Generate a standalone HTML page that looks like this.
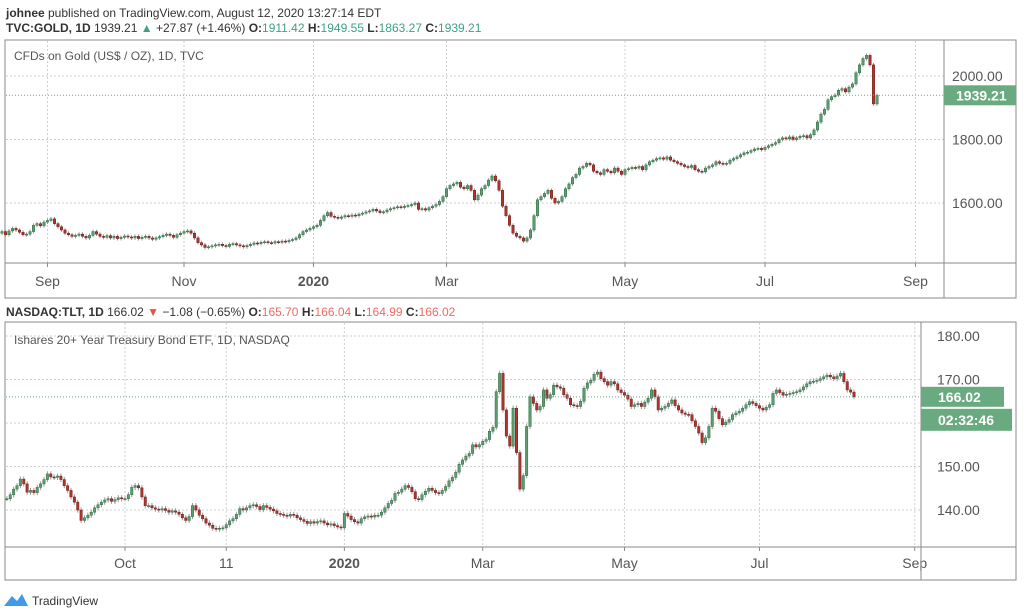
<!DOCTYPE html>
<html><head><meta charset="utf-8"><style>
body{margin:0;background:#fff;font-family:"Liberation Sans",sans-serif;}
#wrap{position:relative;width:1024px;height:616px;overflow:hidden;}
svg text{font-family:"Liberation Sans",sans-serif;}
</style></head><body>
<div id="wrap">
<svg id="svg" width="1024" height="616" xmlns="http://www.w3.org/2000/svg">
  <text x="6" y="17" font-size="12" fill="#333"><tspan font-weight="bold">johnee</tspan> published on TradingView.com, August 12, 2020 13:27:14 EDT</text>
  <text x="6" y="32" font-size="12" fill="#333"><tspan font-weight="bold">TVC:GOLD, 1D</tspan> 1939.21 <tspan fill="#3fa089">▲</tspan> +27.87 (+1.46%) <tspan font-weight="bold">O:</tspan><tspan fill="#3fa089">1911.42</tspan> <tspan font-weight="bold">H:</tspan><tspan fill="#3fa089">1949.55</tspan> <tspan font-weight="bold">L:</tspan><tspan fill="#3fa089">1863.27</tspan> <tspan font-weight="bold">C:</tspan><tspan fill="#3fa089">1939.21</tspan></text>
  <text x="6" y="316" font-size="12" fill="#333"><tspan font-weight="bold">NASDAQ:TLT, 1D</tspan> 166.02 <tspan fill="#e5534b">▼</tspan> −1.08 (−0.65%) <tspan font-weight="bold">O:</tspan><tspan fill="#ef6a63">165.70</tspan> <tspan font-weight="bold">H:</tspan><tspan fill="#ef6a63">166.04</tspan> <tspan font-weight="bold">L:</tspan><tspan fill="#ef6a63">164.99</tspan> <tspan font-weight="bold">C:</tspan><tspan fill="#ef6a63">166.02</tspan></text>

  <g id="topGrid"></g>
  <g id="botGrid"></g>

  <rect x="5" y="40" width="1011" height="258" fill="none" stroke="#8a8a8a"/>
  <line x1="5" y1="263" x2="1016" y2="263" stroke="#8a8a8a"/>
  <line x1="944" y1="40" x2="944" y2="298" stroke="#8a8a8a"/>
  <text x="14" y="60" font-size="12" fill="#555">CFDs on Gold (US$ / OZ), 1D, TVC</text>

  <rect x="5" y="322" width="1011" height="258" fill="none" stroke="#8a8a8a"/>
  <line x1="5" y1="547" x2="1016" y2="547" stroke="#8a8a8a"/>
  <line x1="921" y1="322" x2="921" y2="580" stroke="#8a8a8a"/>
  <text x="14" y="344" font-size="12" fill="#555">Ishares 20+ Year Treasury Bond ETF, 1D, NASDAQ</text>

  <g id="topCandles"></g>
  <g id="botCandles"></g>
  <g id="tags"></g>

  <g>
    <path d="M4 606 L12 596 L17 601 L22 594 L28 606 Z" fill="#1e88e5" opacity="0.85"/>
    <text x="32" y="605" font-size="12" fill="#333">TradingView</text>
  </g>
</svg>
</div>
<script>
// ---- Gold data ----
const goldCloses = [
1505,1510,1500,1512,1520,1515,1508,1500,1502,1510,
1530,1535,1528,1540,1545,1550,1535,1525,1515,1505,
1500,1495,1498,1502,1495,1490,1498,1510,1502,1495,
1492,1497,1490,1495,1488,1492,1496,1493,1490,1495,
1488,1492,1495,1490,1486,1490,1494,1498,1502,1498,
1492,1500,1505,1510,1512,1505,1490,1475,1468,1460,
1462,1465,1468,1470,1466,1463,1470,1472,1468,1465,
1462,1466,1470,1474,1472,1476,1478,1475,1474,1478,
1476,1480,1478,1482,1485,1490,1500,1510,1515,1520,
1525,1530,1545,1560,1570,1558,1555,1552,1556,1560,
1558,1562,1560,1565,1568,1572,1575,1580,1575,1570,
1572,1578,1582,1585,1588,1586,1590,1592,1595,1600,
1580,1582,1578,1585,1590,1595,1605,1620,1645,1655,
1660,1665,1650,1645,1655,1640,1610,1625,1645,1655,
1672,1685,1670,1640,1590,1560,1530,1505,1495,1490,
1480,1490,1515,1560,1610,1620,1630,1640,1615,1600,
1605,1620,1645,1660,1680,1690,1710,1715,1725,1720,
1700,1695,1690,1705,1700,1695,1710,1700,1690,1705,
1708,1712,1710,1715,1705,1720,1730,1735,1740,1742,
1738,1745,1735,1730,1725,1720,1715,1712,1718,1705,
1700,1698,1710,1715,1720,1730,1725,1722,1725,1735,
1740,1745,1752,1758,1760,1765,1770,1772,1768,1775,
1780,1785,1790,1800,1805,1802,1808,1800,1805,1810,
1812,1805,1815,1830,1855,1880,1895,1925,1935,1940,
1955,1960,1950,1965,1975,2010,2035,2055,2065,2035,
1912,1939.21];
const goldTicks = [1600,1800,2000];
const goldTickLabels = ["1600.00","1800.00","2000.00"];
const goldLast = 1939.21;
const goldDateLabels = ["Sep","Nov","2020","Mar","May","Jul","Sep"];
const goldDateBars = [14,53,90,128,179,219,262];

// ---- TLT data ----
const tltCloses = [
142.6,143.5,144.8,145.6,147.1,146,144.1,144.5,144,145.2,
146,147,148.3,147.6,147.5,147.8,147,145.6,144.5,143,
141.8,140,137.6,138.2,138.8,139.5,140.5,141.2,141.8,142.3,
142.6,142,142.4,142.8,142.6,142.6,143.5,145.2,145.6,145.1,
143,141,141,140.5,140.2,140,140.3,139.9,139.5,139.8,
139.5,139,138.2,137.6,138.5,141,140,138.8,138,137,
136.5,135.8,135.6,135.8,135.9,136.6,137.5,138,139,140.3,
140,140.5,141,141.2,140.8,140.1,141,140.6,140.2,139.8,
139.2,139,138.8,138.6,139,138.8,138.2,137.8,137.4,136.9,
137.3,137,137.3,137.5,137,136.6,136.8,136.4,136.1,135.9,
139.2,138.6,137.8,137.3,137,138,138.4,138.6,138.4,138.8,
138.8,139.5,140.5,141.5,142.2,143.8,144.1,144.8,145.6,145.2,
144.2,142.6,142.4,143.5,144.3,145,144.5,144,143.8,144.5,
145.4,146.7,147.5,148.7,150.5,151.5,152.4,153,155,154.5,
155,155.8,156.2,158.1,159,167.2,171.4,163,157,154.7,
163.4,153.2,144.8,147.9,159.2,166,164.5,163,163.8,167.6,
165.7,166.5,168.7,168.3,168,166.5,165.7,164.2,164,163.8,
165,168,169.2,169.8,171.2,171.7,170.2,169.5,168.7,169.5,
169,167.6,167,166.4,165.5,163.8,164.2,164.5,163.8,164.8,
165.7,167.6,166,163,163.4,163.8,164.5,165.3,164,163,
162.3,162,161.9,160.5,159.2,157.7,155.5,156.6,159.2,163.4,
162.7,161,159.6,160.2,160.8,161.9,162.3,162.7,163.4,164.2,
164.9,164.5,164,163.4,163,163.6,164.2,166.8,167.6,167,
166.4,166.6,166.8,167,167.2,167.6,168.3,169,169.5,169.6,
169.8,170.2,170.6,171,170.6,170.2,170.8,171.4,169.5,167.6,
167.1,166.02];
const tltTicks = [140,150,160,170,180];
const tltTickLabels = ["140.00","150.00","","170.00","180.00"];
const tltLast = 166.02;
const tltDateLabels = ["Oct","11","2020","Mar","May","Jul","Sep"];
const tltDateBars = [35,65,100,141,183,223,269];

const NS="http://www.w3.org/2000/svg";
function mk(tag, attrs, parent){const e=document.createElementNS(NS,tag);for(const k in attrs)e.setAttribute(k,attrs[k]);parent.appendChild(e);return e;}

// axis functions
const gX = i => 877 - (goldCloses.length-1-i)*3.5;
const gY = p => 76 + (2000-p)*0.3175;
const tX = i => 854 - (tltCloses.length-1-i)*3.375;
const tY = p => 336 + (180-p)*4.35;

function grid(g, ticks, labels, yf, dateBars, dateLabels, xf, x0, x1, y0, y1, axX, axY, prefix){
  ticks.forEach((t,k)=>{
    const y=yf(t);
    const l=mk('line',{x1:x0,x2:x1,y1:y,y2:y,stroke:'#cfcfcf','stroke-dasharray':'2,2'},g);
    
    
    if(labels[k]){
      const tx=mk('text',{x:axX,y:y+5,'font-size':'14',fill:'#555'},g);
      tx.textContent=labels[k];
      
      
    }
  });
  dateBars.forEach((b,k)=>{
    const x=xf(b);
    const l=mk('line',{x1:x,x2:x,y1:y0,y2:y1,stroke:'#cfcfcf','stroke-dasharray':'2,2'},g);
    
    
    mk('line',{x1:x,x2:x,y1:y1,y2:y1+4,stroke:'#8a8a8a'},g);
    const tx=mk('text',{x:x,y:axY,'font-size':'14',fill:'#555','text-anchor':'middle','font-weight':dateLabels[k]==='2020'?'bold':'normal'},g);
    tx.textContent=dateLabels[k];
    
    
  });
}
grid(document.getElementById('topGrid'), goldTicks, goldTickLabels, gY, goldDateBars, goldDateLabels, gX, 6, 944, 41, 263, 952, 286, 'gold');
grid(document.getElementById('botGrid'), tltTicks, tltTickLabels, tY, tltDateBars, tltDateLabels, tX, 6, 921, 323, 547, 937, 568, 'tlt');

function candles(g, closes, xf, yf, pad, prefix){
  for(let i=0;i<closes.length;i++){
    const c=closes[i], o = i>0?closes[i-1]:closes[i];
    const up=c>=o, x=xf(i);
    const hi=Math.max(o,c)+pad, lo=Math.min(o,c)-pad;
    const w=mk('line',{x1:x,x2:x,y1:yf(hi),y2:yf(lo),stroke:'#999','stroke-width':1},g);
    
    
    const yT=yf(Math.max(o,c)), yB=yf(Math.min(o,c));
    const r=mk('rect',{x:x-1.2,y:yT,width:2.4,height:Math.max(1,yB-yT),fill:up?'#5c9e70':'#b0352e',stroke:up?'#2f6a44':'#6e1d18','stroke-width':0.5},g);
    
    
  }
}
candles(document.getElementById('topCandles'), goldCloses, gX, gY, 6, 'gold');
candles(document.getElementById('botCandles'), tltCloses, tX, tY, 0.6, 'tlt');

const tags=document.getElementById('tags');
// gold last-price line and tag
let ln=mk('line',{x1:6,x2:944,y1:gY(goldLast),y2:gY(goldLast),stroke:'#6aaa80','stroke-dasharray':'1,2'},tags);


let r=mk('rect',{x:944,y:gY(goldLast)-10,width:72,height:20,fill:'#6aaa80'},tags);


let t=mk('text',{x:956,y:gY(goldLast)+5,'font-size':'14',fill:'#fff','font-weight':'bold'},tags);
t.textContent=goldLast.toFixed(2);


// tlt
ln=mk('line',{x1:6,x2:921,y1:tY(tltLast),y2:tY(tltLast),stroke:'#6aaa80','stroke-dasharray':'1,2'},tags);


r=mk('rect',{x:921,y:tY(tltLast)-10,width:83,height:20,fill:'#6aaa80'},tags);


t=mk('text',{x:938,y:tY(tltLast)+5,'font-size':'14',fill:'#fff','font-weight':'bold'},tags);
t.textContent=tltLast.toFixed(2);


r=mk('rect',{x:921,y:tY(tltLast)+12,width:91,height:22,fill:'#6aaa80'},tags);


t=mk('text',{x:938,y:tY(tltLast)+28,'font-size':'14',fill:'#fff','font-weight':'bold'},tags);
t.textContent='02:32:46';


</script>
</body></html>
